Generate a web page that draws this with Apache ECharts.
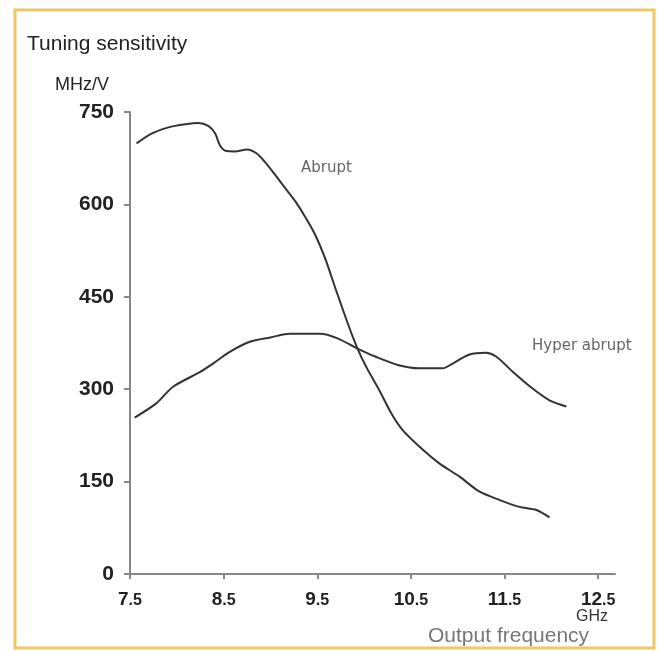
<!DOCTYPE html>
<html lang="en">
<head>
    <meta charset="UTF-8">
    <title>Tuning sensitivity</title>
    <script src="https://cdn.jsdelivr.net/npm/echarts@6/dist/echarts.min.js"></script>
    <style>
        body { margin: 0; background: #fff; }
        #main { width: 662px; height: 651px; }
    </style>
</head>
<body>
<div id="main"></div>
<script>
    // data: frequency (GHz) / sensitivity (MHz/V)
    var abruptFreq = [7.57, 7.73, 7.91, 8.09, 8.23, 8.34, 8.41, 8.46, 8.52, 8.62, 8.75, 8.85, 8.94, 9.05, 9.16, 9.27, 9.37, 9.48, 9.59, 9.70, 9.84, 9.93, 10.02, 10.16, 10.29, 10.41, 10.59, 10.80, 11.02, 11.23, 11.45, 11.66, 11.84, 11.98];
    var abruptVal = [699, 715, 725, 730, 732, 727, 715, 696, 687, 686, 689, 683, 669, 648, 626, 604, 580, 550, 510, 461, 401, 366, 337, 299, 261, 234, 207, 180, 158, 134, 120, 109, 104, 92];

    var hyperFreq = [7.55, 7.78, 7.96, 8.25, 8.39, 8.57, 8.78, 9.00, 9.21, 9.53, 9.71, 9.93, 10.12, 10.37, 10.59, 10.84, 10.95, 11.12, 11.30, 11.41, 11.59, 11.80, 11.98, 12.16];
    var hyperVal = [254, 277, 304, 328, 342, 361, 377, 384, 390, 390, 383, 366, 353, 339, 334, 334, 342, 356, 359, 353, 328, 301, 282, 272];

    var xTicks = [7.5, 8.5, 9.5, 10.5, 11.5, 12.5];

    function pairs(xs, ys) {
        return xs.map(function (x, i) { return [x, ys[i]]; });
    }

    var myChart = echarts.init(document.getElementById('main'));
    var lineStyle = { color: '#333', width: 2 };

    var option = {
        backgroundColor: '#fff',
        animation: false,
        grid: { left: 130, right: 47, top: 112, bottom: 77 },
        xAxis: {
            type: 'value',
            min: 7.5,
            max: 12.68,
            splitLine: { show: false },
            axisLine: { lineStyle: { color: '#888', width: 2 } },
            axisTick: { customValues: xTicks, length: 5, lineStyle: { color: '#888', width: 2 } },
            axisLabel: {
                customValues: xTicks,
                margin: 16,
                formatter: function (v) {
                    var s = v.toFixed(1).split('.');
                    return '{a|' + s[0] + '}{b|.' + s[1] + '}';
                },
                rich: {
                    a: { fontFamily: 'Liberation Sans', fontWeight: 'bold', fontSize: 19, color: '#222' },
                    b: { fontFamily: 'Liberation Sans', fontWeight: 'bold', fontSize: 16, color: '#222', verticalAlign: 'bottom' }
                }
            }
        },
        yAxis: {
            type: 'value',
            min: 0,
            max: 750,
            interval: 150,
            splitLine: { show: false },
            axisLine: { show: true, lineStyle: { color: '#888', width: 2 } },
            axisTick: { show: true, length: 6, lineStyle: { color: '#888', width: 2 } },
            axisLabel: {
                margin: 16,
                fontFamily: 'Liberation Sans',
                fontWeight: 'bold',
                fontSize: 21,
                color: '#222'
            }
        },
        series: [
            {
                name: 'Abrupt',
                type: 'line',
                smooth: 0.3,
                showSymbol: false,
                lineStyle: lineStyle,
                data: pairs(abruptFreq, abruptVal)
            },
            {
                name: 'Hyper abrupt',
                type: 'line',
                smooth: 0.3,
                showSymbol: false,
                lineStyle: lineStyle,
                data: pairs(hyperFreq, hyperVal)
            }
        ],
        graphic: [
            {
                type: 'rect',
                shape: { x: 15, y: 10, width: 639, height: 638 },
                style: { fill: 'none', stroke: '#eec866', lineWidth: 3 }
            },
            {
                type: 'text', left: 27, top: 34,
                style: { text: 'Tuning sensitivity', fontFamily: 'Liberation Sans', fontSize: 21, fill: '#222' }
            },
            {
                type: 'text', left: 55, top: 76,
                style: { text: 'MHz/V', fontFamily: 'Liberation Sans', fontSize: 18, fill: '#222' }
            },
            {
                type: 'text', left: 301, top: 161,
                style: { text: 'Abrupt', fontFamily: 'DejaVu Sans', fontSize: 15, fill: '#666' }
            },
            {
                type: 'text', left: 532, top: 339,
                style: { text: 'Hyper abrupt', fontFamily: 'DejaVu Sans', fontSize: 15, fill: '#666' }
            },
            {
                type: 'text', left: 576, top: 609,
                style: { text: 'GHz', fontFamily: 'Liberation Sans', fontSize: 16, fill: '#333' }
            },
            {
                type: 'text', left: 428, top: 626,
                style: { text: 'Output frequency', fontFamily: 'Liberation Sans', fontSize: 21, fill: '#777' }
            }
        ]
    };
    myChart.setOption(option);
</script>
</body>
</html>
